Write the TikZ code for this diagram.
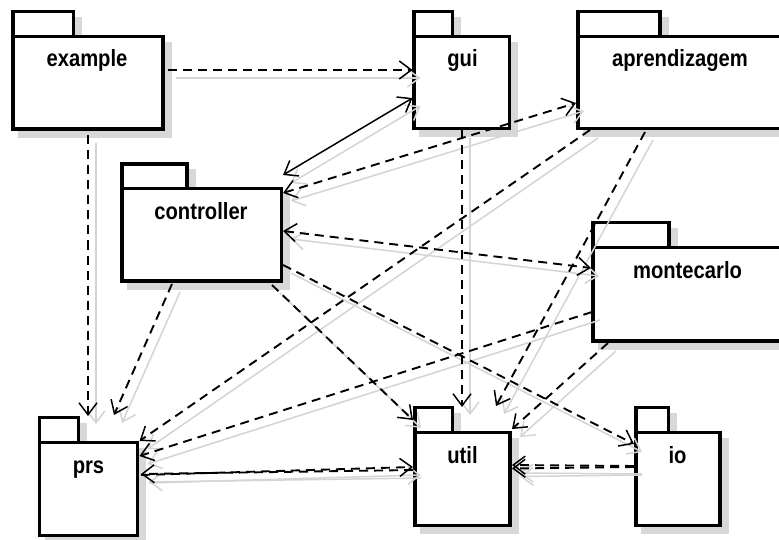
\documentclass[tikz,border=0pt]{standalone}
\usepackage{fontspec}
\setmainfont{Liberation Sans}
\usetikzlibrary{arrows.meta,calc}
\definecolor{pkgshadow}{HTML}{D8D8D8}
\definecolor{linkshadow}{HTML}{D4D4D4}
\tikzset{
  pkgbox/.style={draw=black, line width=3.6pt, fill=white, inner sep=0pt, outer sep=0pt, anchor=north west, rectangle},
  pkgtext/.style={font=\fontsize{23.5}{23.5}\selectfont\bfseries, anchor=base, inner sep=0pt},
  >={Straight Barb[length=12pt,width=18pt,line width=1.5pt]}
}
% #1 name, #2 x1, #3 tab top, #4 tab right, #5 body top, #6 body right, #7 body bottom, #8 label x, #9 label
\newcommand\pkgdraw[9]{%
  \fill[pkgshadow] ({#2+5.25},{#3+5.25}) rectangle ({#4+8.75},{#5+8.75});
  \node[pkgbox, minimum width={(#4-#2)*1pt}, minimum height={(#5-#3)*1pt}] (#1-tab) at (#2,#3) {};
  \fill[pkgshadow] ({#2+5.25},{#5+5.25}) rectangle ({#6+8.75},{#7+8.75});
  \node[pkgbox, minimum width={(#6-#2)*1pt}, minimum height={(#7-#5)*1pt}] (#1) at (#2,#5) {};
  \node[pkgtext] (#1-label) at (#8,{#5+30.5}) {\scalebox{0.86}[1]{#9}};
}
\newcommand\deplinks{%
  % example -> gui
  \draw[dep,->] ($(example.north west)+(155,33.5)$) -- ($(gui.north west)+(-1.5,33.5)$);
  % example -> prs
  \draw[dep,->] ($(example.north west)+(75,99)$) -- ($(prs.north west)+(48.5,-26.5)$);
  % gui <-> controller
  \draw[solidlink,<->] ($(gui.north west)+(-1.5,61.5)$) -- ($(controller.north west)+(161,-13.5)$);
  % controller <-> aprendizagem
  \draw[dep,<->] ($(controller.north west)+(161,4.5)$) -- ($(aprendizagem.north west)+(-2,66.5)$);
  % controller <-> montecarlo
  \draw[dep,<->] ($(controller.north west)+(161,42.5)$) -- ($(montecarlo.north west)+(-2,20.5)$);
  % gui -> util
  \draw[dep,->] ($(gui.north west)+(48,93.5)$) -- ($(util.north west)+(47,-25.5)$);
  % aprendizagem -> prs
  \draw[dep,->] ($(aprendizagem.north west)+(12,93.5)$) -- ($(prs.north west)+(100,-1.5)$);
  % aprendizagem -> util
  \draw[dep,->] ($(aprendizagem.north west)+(67,95.5)$) -- ($(util.north west)+(81,-26.5)$);
  % montecarlo -> prs
  \draw[dep,->] ($(montecarlo.north west)+(-1,64.5)$) -- ($(prs.north west)+(100,13.5)$);
  % montecarlo -> util
  \draw[dep,->] ($(montecarlo.north west)+(15,95.5)$) -- ($(util.north west)+(97,-3.5)$);
  % controller -> prs
  \draw[dep,->] ($(controller.north west)+(50,95.5)$) -- ($(prs.north west)+(74.5,-27.5)$);
  % controller -> util
  \draw[dep,->] ($(controller.north west)+(150,96.5)$) -- ($(util.north west)+(-2,-12.5)$);
  % controller -> io
  \draw[dep,->] ($(controller.north west)+(161,76.5)$) -- ($(io.north west)+(-2,11.5)$);
  % prs <-> util
  \draw[dep,->] ($(prs.north west)+(101.5,32.5)$) -- ($(util.north west)+(-2,34.5)$);
  \draw[dep,->] ($(util.north west)+(-2,37.5)$) -- ($(prs.north west)+(101.5,31.5)$);
  % io -> util
  \draw[dep,->] ($(io.north west)+(-2,33.5)$) -- ($(util.north west)+(97,32.5)$);
  \draw[dep,->] ($(io.north west)+(-2,34.5)$) -- ($(util.north west)+(97,36)$);
}
\begin{document}
\begin{tikzpicture}[x=1pt,y=-1pt]
\useasboundingbox (0,0) rectangle (779,540);
\clip (0,0) rectangle (779,540);
\fill[white] (0,0) rectangle (779,540);
\pkgdraw{example}{13}{11.5}{73.5}{36.5}{163}{129}{87}{example}
\pkgdraw{gui}{414}{11.5}{452.5}{36.5}{509.5}{128.5}{462.5}{gui}
\pkgdraw{aprendizagem}{578}{11.5}{660}{36.5}{795}{128.5}{680}{aprendizagem}
\pkgdraw{controller}{122}{164}{187}{188.5}{281.5}{281}{201}{controller}
\pkgdraw{montecarlo}{593}{222.5}{669}{247.5}{795}{341}{687.5}{montecarlo}
\pkgdraw{prs}{39.5}{417.5}{78.5}{442.5}{137.5}{535.5}{88.5}{prs}
\pkgdraw{util}{415}{407.5}{452.5}{432.5}{510}{525.5}{462.5}{util}
\pkgdraw{io}{636}{407.5}{668.5}{432.5}{720}{525.5}{677.5}{io}
\begin{scope}[transform canvas={shift={(8pt,-8pt)}},
  dep/.style={draw=linkshadow, line width=1.5pt},
  solidlink/.style={draw=linkshadow, line width=1.5pt}]
  \deplinks
\end{scope}
\begin{scope}[dep/.style={draw=black, line width=1.9pt, dash pattern=on 9pt off 6pt},
  solidlink/.style={draw=black, line width=1.5pt}]
  \deplinks
\end{scope}
\end{tikzpicture}
\end{document}
